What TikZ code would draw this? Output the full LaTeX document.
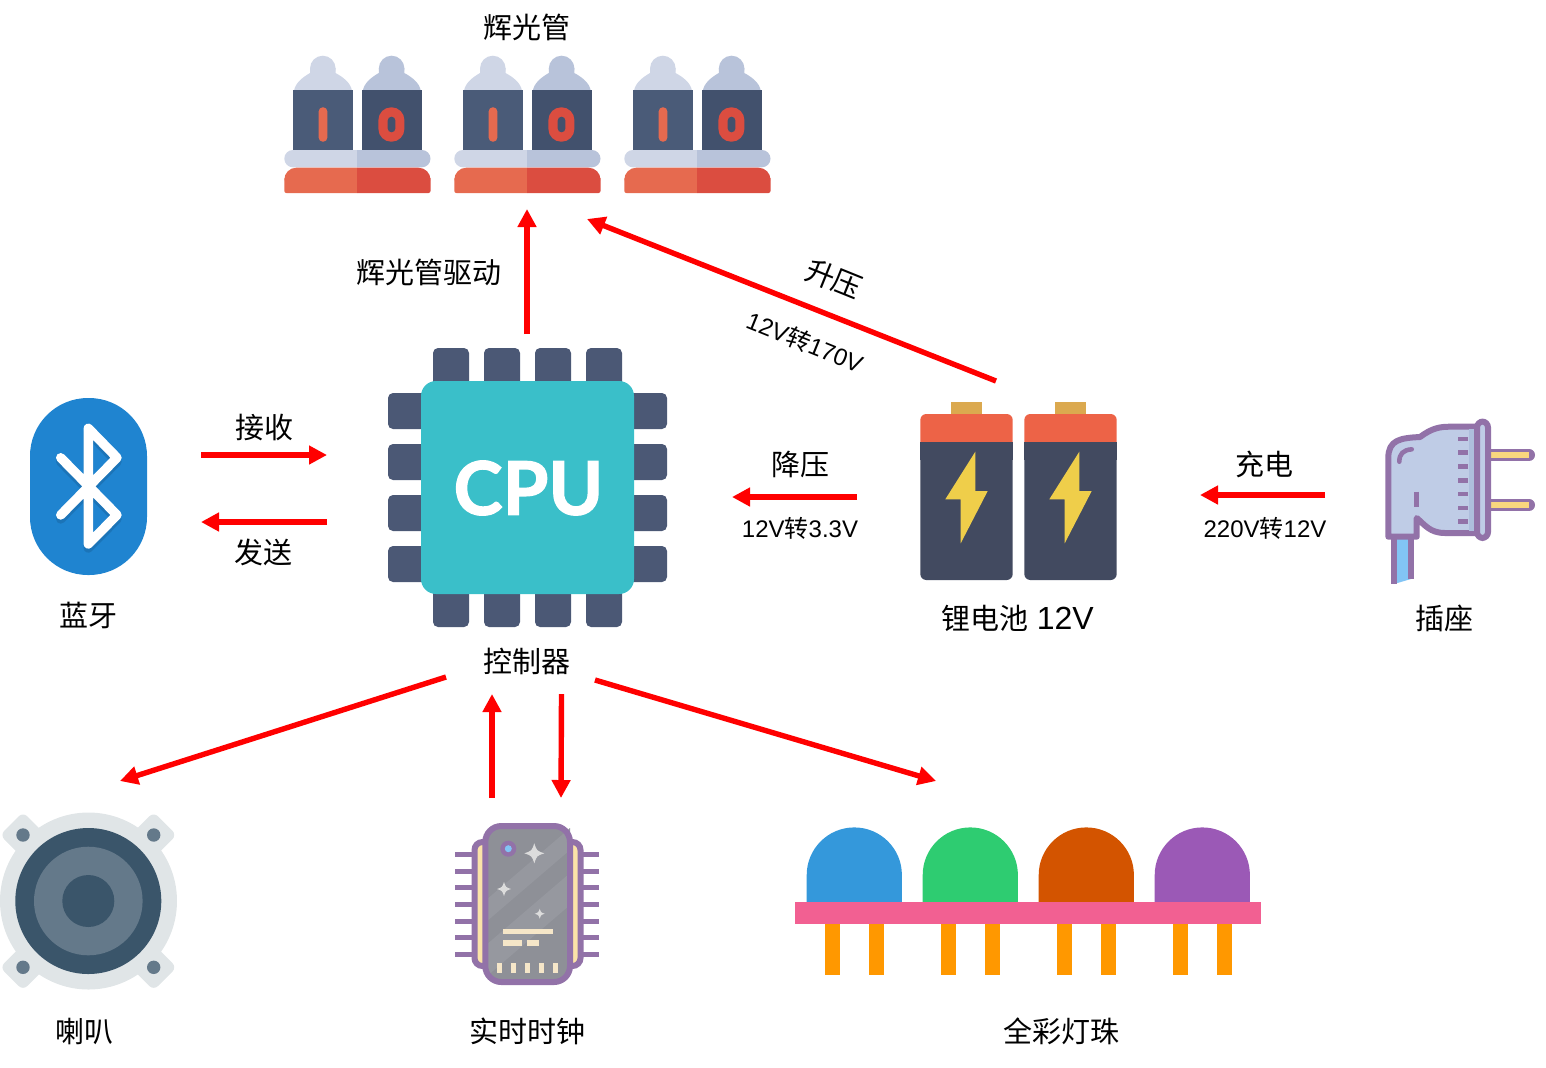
\documentclass[tikz,border=0pt]{standalone}
\usepackage{fontspec}
\setmainfont{Noto Sans CJK SC}
\newfontfamily\cpufont[BoldFeatures={FakeBold=1.6}]{Lato}
\newfontfamily\latinfont{Liberation Sans}
\usetikzlibrary{arrows.meta}
\newcommand{\feedarrowstyle}{-{Triangle[length=9pt,width=9pt]}}

\definecolor{glassA}{HTML}{CFD6E6}
\definecolor{glassB}{HTML}{B8C3DA}
\definecolor{tubeA}{HTML}{4A5B78}
\definecolor{tubeB}{HTML}{42516D}
\definecolor{baseA}{HTML}{E66A4F}
\definecolor{baseB}{HTML}{DB4D40}
\definecolor{pinblue}{HTML}{4B5875}
\definecolor{cputeal}{HTML}{3ABFC9}
\definecolor{btblue}{HTML}{1F84D0}
\definecolor{btshade}{HTML}{1B74B8}
\definecolor{cellred}{HTML}{ED6347}
\definecolor{cellbody}{HTML}{424A60}
\definecolor{cellcap}{HTML}{DBA94F}
\definecolor{cellbolt}{HTML}{EFCE4A}
\definecolor{plugline}{HTML}{9272A8}
\definecolor{plugfill}{HTML}{BFCCE6}
\definecolor{plugshade}{HTML}{AEBEDD}
\definecolor{plugpin}{HTML}{F9D77E}
\definecolor{cordblue}{HTML}{82C4F5}
\definecolor{rtcgray}{HTML}{8E9097}
\definecolor{rtclight}{HTML}{96989F}
\definecolor{rtcstarwhite}{HTML}{DCDCDC}
\definecolor{rtccream}{HTML}{F5E6C8}
\definecolor{rtcside}{HTML}{FBE3A8}
\definecolor{spkrim}{HTML}{E0E5E7}
\definecolor{spkdark}{HTML}{3A556A}
\definecolor{spkmid}{HTML}{64798A}
\definecolor{ledpink}{HTML}{F26092}
\definecolor{ledpin}{HTML}{FF9800}

% one half of a nixie pair: shift, glass, body
\newcommand{\nixiehalf}[3]{
  \fill[#2] (#1+294,91) .. controls (#1+295,83) and (#1+303,77) .. (#1+310,73) -- (#1+310,68) -- (#1+335.5,68) -- (#1+335.5,73) .. controls (#1+343,77) and (#1+351,83) .. (#1+352,91) -- cycle;
  \fill[#2] (#1+322.8,68.5) circle[radius=12.8];
  \fill[#3] (#1+293,90) rectangle (#1+352.7,150.5);
}
\newcommand{\nixiepair}[1]{
  \nixiehalf{#1}{glassA}{tubeA}
  \nixiehalf{#1+68.8}{glassB}{tubeB}
  \fill[baseA, rounded corners=2pt] (#1+318.7,107.3) rectangle (#1+327.3,141.7);
  \fill[baseB, rounded corners=6.4pt] (#1+378.4,107.3) rectangle (#1+404.4,141.7);
  \fill[tubeB, rounded corners=1.9pt] (#1+387.7,116.7) rectangle (#1+395.4,132.3);
  \begin{scope}
    \clip (#1+280,148) rectangle (#1+357,196);
    \fill[glassA, rounded corners=4.3pt] (#1+284.3,150) rectangle (#1+430.5,167.3);
    \fill[baseA, rounded corners=6pt] (#1+284.3,167.7) rectangle (#1+430.5,190);
    \fill[baseA, rounded corners=1pt] (#1+284.3,178) rectangle (#1+430.5,193);
  \end{scope}
  \begin{scope}
    \clip (#1+357,148) rectangle (#1+434,196);
    \fill[glassB, rounded corners=4.3pt] (#1+284.3,150) rectangle (#1+430.5,167.3);
    \fill[baseB, rounded corners=6pt] (#1+284.3,167.7) rectangle (#1+430.5,190);
    \fill[baseB, rounded corners=1pt] (#1+284.3,178) rectangle (#1+430.5,193);
  \end{scope}
}
\newcommand{\powercell}[1]{
  \fill[cellcap] (#1+951.3,402) rectangle (#1+981.7,416);
  \fill[cellred, rounded corners=3pt] (#1+920.3,414) rectangle (#1+1012.7,460);
  \fill[cellbody, rounded corners=3pt] (#1+920.3,450) rectangle (#1+1012.7,580);
  \fill[cellbody] (#1+920.3,442) rectangle (#1+1012.7,460);
  \fill[cellbolt] (#1+975.3,451.7) -- (#1+945.3,499.3) -- (#1+960.7,499.3) -- (#1+960.7,543.3) -- (#1+987.7,491) -- (#1+975.3,491) -- cycle;
}
\newcommand{\rtcstar}[3]{
  \fill[rtcstarwhite] (#1-#3,#2) .. controls (#1-#3*0.25,#2-#3*0.25) .. (#1,#2-#3) .. controls (#1+#3*0.25,#2-#3*0.25) .. (#1+#3,#2) .. controls (#1+#3*0.25,#2+#3*0.25) .. (#1,#2+#3) .. controls (#1-#3*0.25,#2+#3*0.25) .. (#1-#3,#2) -- cycle;
}

\begin{document}
\begin{tikzpicture}[
    x=0.5pt, y=-0.5pt,
    txt/.style={font=\fontsize{14.5}{17}\selectfont, inner sep=0pt},
    smalltxt/.style={font=\fontsize{12}{14}\selectfont, inner sep=0pt},
    feed/.style={\feedarrowstyle, draw=red, line width=2.7pt}
]
  \useasboundingbox (0,0) rectangle (1546,1067);

  % nixie tubes
  \foreach \tubex in {0,170,340} {\nixiepair{\tubex}}
  \node[txt] (tubeslabel) at (527,27.5) {辉光管};

  % cpu
  \foreach \pinx in {433,484,535,586} {
    \fill[pinblue, rounded corners=2.5pt] (\pinx,348) rectangle (\pinx+36,390);
    \fill[pinblue, rounded corners=2.5pt] (\pinx,585) rectangle (\pinx+36,627);
  }
  \foreach \piny in {393,444,495,546} {
    \fill[pinblue, rounded corners=2.5pt] (388,\piny) rectangle (430,\piny+36);
    \fill[pinblue, rounded corners=2.5pt] (625,\piny) rectangle (667,\piny+36);
  }
  \fill[cputeal, rounded corners=7.5pt] (421,381) rectangle (634,594);
  \node[font=\cpufont\bfseries\fontsize{37}{40}\selectfont, text=white, inner sep=0pt] (cpulogo) at (528.5,488) {CPU};
  \node[txt] (cpulabel) at (527,661.5) {控制器};

  % bluetooth
  \fill[btblue, rounded corners=29pt] (30,398) rectangle (147,575);
  \draw[btshade, line width=4.7pt, line cap=round, line join=round] (60.7,461.7) -- (117,519) -- (88.3,548) -- (88.3,432) -- (117,461.7) -- (60.7,519);
  \draw[white, line width=4.7pt, line cap=round, line join=round] (60.7,457.7) -- (117,515) -- (88.3,544) -- (88.3,428.3) -- (117,457.7) -- (60.7,515);
  \node[txt] (btlabel) at (88,615.5) {蓝牙};

  % battery
  \powercell{0}
  \powercell{104}
  \node[txt] (batlabel) at (1017.5,618.5) {锂电池\hspace{1pt} {\latinfont\fontsize{16}{17}\selectfont 12V}};

  % plug
  \fill[cordblue] (1394,535) -- (1411,535) -- (1411,579) -- (1394,584) -- cycle;
  \draw[plugline, line width=3pt] (1394,535) -- (1394,584);
  \draw[plugline, line width=3pt] (1411,535) -- (1411,579);
  \foreach \prongy in {455,505} {
    \draw[plugline, line width=6pt, line cap=round] (1486,\prongy) -- (1529,\prongy);
    \draw[plugpin, line width=2.7pt] (1489,\prongy) -- (1529,\prongy);
  }
  \draw[plugline, line width=3pt, fill=plugfill, line join=round] (1388.3,536.7) -- (1388.3,458) .. controls (1388.3,440) and (1400,438) .. (1420,437) .. controls (1432,428) and (1440,426.7) .. (1450,426.7) -- (1478,426.7) -- (1478,533) -- (1445,533) .. controls (1430,533) and (1425,525) .. (1416.7,518) -- (1416.7,536.7) -- cycle;
  \fill[plugshade] (1469,429) rectangle (1476,531);
  \draw[plugline, line width=3pt, fill=plugfill, rounded corners=3pt] (1477,421.5) rectangle (1488,538);
  \foreach \ticky in {439,452.7,466.7,480.3,494,508,521.7} {
    \draw[plugline, line width=2.3pt] (1458,\ticky) -- (1468,\ticky);
  }
  \draw[plugline, line width=2.3pt, line cap=round] (1399.3,461.7) .. controls (1399.3,454) and (1403,450) .. (1411.7,449.3);
  \draw[plugline, line width=2.5pt] (1416,491.7) -- (1416,507);
  \node[txt] (pluglabel) at (1444,618.5) {插座};

  % speaker
  \foreach \lugx/\lugy in {23/835,153.7/835,23/967.3,153.7/967.3} {
    \fill[spkrim, rounded corners=3pt] (\lugx-23,\lugy) -- (\lugx,\lugy-23) -- (\lugx+23,\lugy) -- (\lugx,\lugy+23) -- cycle;
  }
  \fill[spkrim] (88.5,901) circle[radius=88.5];
  \foreach \lugx/\lugy in {23/835,153.7/835,23/967.3,153.7/967.3} {
    \fill[spkmid] (\lugx,\lugy) circle[radius=6.7];
  }
  \fill[spkdark] (88.3,901) circle[radius=73];
  \fill[spkmid] (88.3,901) circle[radius=54.3];
  \fill[spkdark] (88.3,901) circle[radius=26];
  \node[txt] (spklabel) at (84,1031.5) {喇叭};

  % clock chip
  \foreach \rtcy in {854.3,871,887.7,904.3,921,937.7,954.3} {
    \draw[plugline, line width=2.5pt] (455,\rtcy) -- (475,\rtcy);
    \draw[plugline, line width=2.5pt] (580,\rtcy) -- (599.3,\rtcy);
  }
  \draw[plugline, line width=3pt, fill=rtcside, rounded corners=4pt] (474.5,842) rectangle (490,966);
  \draw[plugline, line width=3pt, fill=rtcside, rounded corners=4pt] (565,842) rectangle (580.5,966);
  \fill[rtcgray, rounded corners=7pt] (486,827) rectangle (570,981);
  \begin{scope}
    \clip (486,827) rectangle (570,981);
    \fill[rtclight] (486,900) -- (570,828) -- (570,850) -- (486,922) -- cycle;
    \fill[rtclight] (486,945) -- (570,873) -- (570,905) -- (486,977) -- cycle;
  \end{scope}
  \draw[plugline, line width=3pt, rounded corners=8pt] (485.3,826) rectangle (570,982);
  \fill[plugline] (508.3,848.7) circle[radius=8];
  \fill[cordblue] (508.3,848.7) circle[radius=3.5];
  \rtcstar{534.3}{853.3}{10}
  \rtcstar{504}{889}{7}
  \rtcstar{539.7}{913.7}{5}
  \fill[rtccream] (502.7,929) rectangle (552.7,934.3);
  \fill[rtccream] (502.7,940.3) rectangle (522.3,945.7);
  \fill[rtccream] (527.3,940.3) rectangle (539,945.7);
  \foreach \toothx in {499.7,513.7,527.3,541.3,555} {
    \fill[rtccream] (\toothx-2.5,962.7) rectangle (\toothx+2.5,972.7);
  }
  \node[txt] (rtclabel) at (527,1031.5) {实时时钟};

  % leds
  \foreach \ledx/\ledcolor in {0/3498DB,116/2ECC71,232/D35400,348/9B59B6} {
    \definecolor{ledtop}{HTML}{\ledcolor}
    \fill[ledtop] (\ledx+806.7,903) -- (\ledx+806.7,875) arc[start angle=180, end angle=360, radius=47.6] -- (\ledx+901.9,903) -- cycle;
    \fill[ledpin] (\ledx+824.7,920) rectangle (\ledx+839.7,975.3);
    \fill[ledpin] (\ledx+869,920) rectangle (\ledx+884,975.3);
  }
  \fill[ledpink] (795.3,901.7) rectangle (1261.3,924);
  \node[txt] (ledlabel) at (1061,1031.5) {全彩灯珠};

  % arrow ends
  \coordinate (cputop) at (527,334);
  \coordinate (tubesbottom) at (527,209);
  \coordinate (batterytop) at (996,381);
  \coordinate (tubesright) at (587,219);
  \coordinate (btrxstart) at (201,455);
  \coordinate (btrxend) at (327,455);
  \coordinate (bttxstart) at (327,522);
  \coordinate (bttxend) at (201,522);
  \coordinate (downstart) at (857,497);
  \coordinate (downend) at (732,497);
  \coordinate (chargestart) at (1325,495);
  \coordinate (chargeend) at (1200,495);
  \coordinate (spkstart) at (446,677);
  \coordinate (spkend) at (120,781);
  \coordinate (rtcup) at (492,798);
  \coordinate (rtcupend) at (492,694);
  \coordinate (rtcdown) at (561.5,694);
  \coordinate (rtcdownend) at (561,798);
  \coordinate (ledstart) at (595,680);
  \coordinate (ledend) at (936,781);

  \draw[feed] (cputop) -- (tubesbottom);
  \draw[feed] (batterytop) -- (tubesright);
  \draw[feed] (btrxstart) -- (btrxend);
  \draw[feed] (bttxstart) -- (bttxend);
  \draw[feed] (downstart) -- (downend);
  \draw[feed] (chargestart) -- (chargeend);
  \draw[feed] (spkstart) -- (spkend);
  \draw[feed] (rtcup) -- (rtcupend);
  \draw[feed] (rtcdown) -- (rtcdownend);
  \draw[feed] (ledstart) -- (ledend);

  \node[txt] (drivelabel) at (429,272.5) {辉光管驱动};
  \node[txt, rotate=-22] (boostlabel) at (834,279) {升压};
  \node[smalltxt, rotate=-22] (boostvolt) at (805,342) {{\latinfont 12V}转{\latinfont 170V}};
  \node[txt] (rxlabel) at (264,427.5) {接收};
  \node[txt] (txlabel) at (263,552.5) {发送};
  \node[txt] (downlabel) at (800,464.5) {降压};
  \node[smalltxt] (downvolt) at (800,528) {{\latinfont 12V}转{\latinfont 3.3V}};
  \node[txt] (chargelabel) at (1264,464.5) {充电};
  \node[smalltxt] (chargevolt) at (1265,528) {{\latinfont 220V}转{\latinfont 12V}};
\end{tikzpicture}
\end{document}
